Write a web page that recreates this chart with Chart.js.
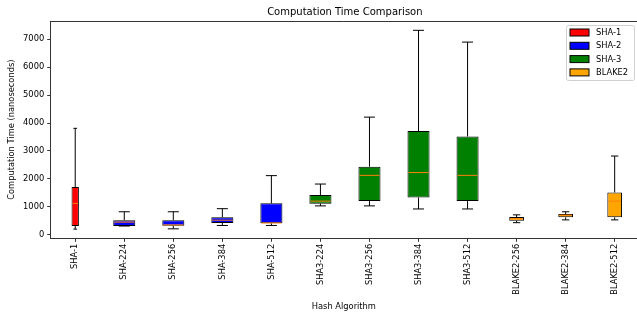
<!DOCTYPE html>
<html>
<head>
<meta charset="utf-8">
<script src="https://cdn.jsdelivr.net/npm/chart.js@4/dist/chart.umd.min.js"></script>
<style>
  html, body { margin: 0; padding: 0; background: #fff; overflow: hidden; }
  #wrap { position: relative; width: 637px; height: 314px; }
</style>
</head>
<body>
<div id="wrap"><canvas id="chart"></canvas></div>
<script>
// data (nanoseconds)
const algorithms = ["SHA-1", "SHA-224", "SHA-256", "SHA-384", "SHA-512", "SHA3-224", "SHA3-256",
  "SHA3-384", "SHA3-512", "BLAKE2-256", "BLAKE2-384", "BLAKE2-512"];
const familyOf = ["SHA-1", "SHA-2", "SHA-2", "SHA-2", "SHA-2", "SHA-3", "SHA-3",
  "SHA-3", "SHA-3", "BLAKE2", "BLAKE2", "BLAKE2"];
const families = ["SHA-1", "SHA-2", "SHA-3", "BLAKE2"];
const whiskerLow = [210, 320, 220, 340, 340, 1040, 1040, 930, 930, 440, 540, 540];
const q1 = [320, 320, 330, 430, 420, 1120, 1210, 1340, 1210, 510, 630, 630];
const median = [1130, 460, 360, 530, 430, 1210, 2130, 2230, 2130, 580, 710, 1210];
const q3 = [1710, 530, 530, 630, 1130, 1430, 2440, 3710, 3520, 640, 750, 1520];
const whiskerHigh = [3810, 830, 830, 940, 2120, 1820, 4210, 7310, 6890, 720, 830, 2820];
const yTicks = [0, 1000, 2000, 3000, 4000, 5000, 6000, 7000];

// styling
const familyColors = { "SHA-1": "#ff0000", "SHA-2": "#0000ff", "SHA-3": "#008000", "BLAKE2": "#ffa500" };
const familyWidths = { "SHA-1": 0.15, "SHA-2": 0.45, "SHA-3": 0.45, "BLAKE2": 0.3 };
const font = "DejaVu Sans";
const spine = "#333";

Chart.defaults.font.family = font;
Chart.defaults.color = "#000";

const datasets = families.map((fam) => ({
  label: fam,
  data: algorithms.map((_, i) => i).filter((i) => familyOf[i] === fam)
    .map((i) => ({ x: i + 1, y: [q1[i], q3[i]], idx: i })),
  backgroundColor: familyColors[fam],
  borderColor: "#000",
  borderWidth: 1,
  borderSkipped: false,
  grouped: false,
  categoryPercentage: 1,
  barPercentage: familyWidths[fam],
}));

const boxExtras = {
  id: "boxExtras",
  afterDatasetsDraw(chart) {
    const { ctx, scales: { x, y } } = chart;
    const line = (x1, y1, x2, y2) => {
      ctx.beginPath(); ctx.moveTo(x1, y1); ctx.lineTo(x2, y2); ctx.stroke();
    };
    ctx.save();
    chart.data.datasets.forEach((ds, d) => {
      chart.getDatasetMeta(d).data.forEach((bar, j) => {
        const i = ds.data[j].idx;
        const cx = x.getPixelForValue(i + 1);
        const half = bar.width / 2;
        const cap = bar.width / 4;
        ctx.strokeStyle = "#000";
        ctx.lineWidth = 1;
        line(cx, y.getPixelForValue(q3[i]), cx, y.getPixelForValue(whiskerHigh[i]));
        line(cx, y.getPixelForValue(q1[i]), cx, y.getPixelForValue(whiskerLow[i]));
        line(cx - cap, y.getPixelForValue(whiskerHigh[i]), cx + cap, y.getPixelForValue(whiskerHigh[i]));
        line(cx - cap, y.getPixelForValue(whiskerLow[i]), cx + cap, y.getPixelForValue(whiskerLow[i]));
        ctx.strokeStyle = "#ff7f0e";
        line(cx - half + 1, y.getPixelForValue(median[i]), cx + half - 1, y.getPixelForValue(median[i]));
      });
    });
    ctx.restore();
  },
  afterDraw(chart) {
    const { ctx, chartArea: a } = chart;
    ctx.save();
    // top spine
    ctx.strokeStyle = spine;
    ctx.lineWidth = 1;
    ctx.beginPath(); ctx.moveTo(a.left, a.top + 0.5); ctx.lineTo(a.right, a.top + 0.5); ctx.stroke();
    // title
    ctx.fillStyle = "#000";
    ctx.font = `10px "${font}"`;
    ctx.textAlign = "center";
    ctx.textBaseline = "middle";
    ctx.fillText("Computation Time Comparison", (a.left + 639) / 2, 12);
    // legend
    const lw = 68, lh = 55;
    const lx = a.right - 70.5, ly = a.top + 4.5;
    ctx.fillStyle = "rgba(255,255,255,0.8)";
    ctx.strokeStyle = "#d0d0d0";
    ctx.beginPath(); ctx.roundRect(lx, ly, lw, lh, 2); ctx.fill(); ctx.stroke();
    ctx.font = `8.3px "${font}"`;
    ctx.textAlign = "left";
    chart.data.datasets.forEach((ds, k) => {
      const cy = ly + 7 + k * 13.3;
      ctx.fillStyle = ds.backgroundColor;
      ctx.fillRect(lx + 3.5, cy - 3.5, 19, 7);
      ctx.strokeStyle = "#000";
      ctx.strokeRect(lx + 3.5, cy - 3.5, 19, 7);
      ctx.fillStyle = "#000";
      ctx.fillText(ds.label, lx + 29.5, cy + 0.5);
    });
    ctx.restore();
  },
};

new Chart(document.getElementById("chart"), {
  type: "bar",
  data: { datasets },
  plugins: [boxExtras],
  options: {
    responsive: true,
    maintainAspectRatio: false,
    animation: false,
    layout: { padding: { top: 21, left: 0, right: 0, bottom: 0 } },
    plugins: { legend: { display: false }, tooltip: { enabled: false } },
    scales: {
      x: {
        type: "linear",
        offset: false,
        min: 0.5,
        max: 12.455,
        afterBuildTicks: (s) => { s.ticks = algorithms.map((_, i) => ({ value: i + 1 })); },
        afterFit: (s) => { s.height = 75.7; },
        ticks: {
          autoSkip: false, minRotation: 90, maxRotation: 90, padding: 2,
          font: { size: 8.3 }, color: "#000",
          callback: (v) => algorithms[v - 1],
        },
        grid: { offset: false, drawOnChartArea: false, drawTicks: true, tickLength: 3.5, tickColor: spine, tickWidth: 1 },
        border: { display: true, color: spine, width: 1 },
        title: { display: true, text: "Hash Algorithm", font: { size: 8.3 }, padding: { top: 0, bottom: 2 } },
      },
      y: {
        min: -118,
        max: 7643,
        afterBuildTicks: (s) => { s.ticks = yTicks.map((v) => ({ value: v })); },
        afterFit: (s) => { s.width = 50.7; },
        ticks: { font: { size: 8.3 }, color: "#000", padding: 3, callback: (v) => String(v) },
        grid: { drawOnChartArea: false, drawTicks: true, tickLength: 3.5, tickColor: spine, tickWidth: 1 },
        border: { display: true, color: spine, width: 1 },
        title: { display: true, text: "Computation Time (nanoseconds)", font: { size: 8.3 }, padding: { top: 6.5, bottom: 0 } },
      },
    },
  },
});
</script>
</body>
</html>
